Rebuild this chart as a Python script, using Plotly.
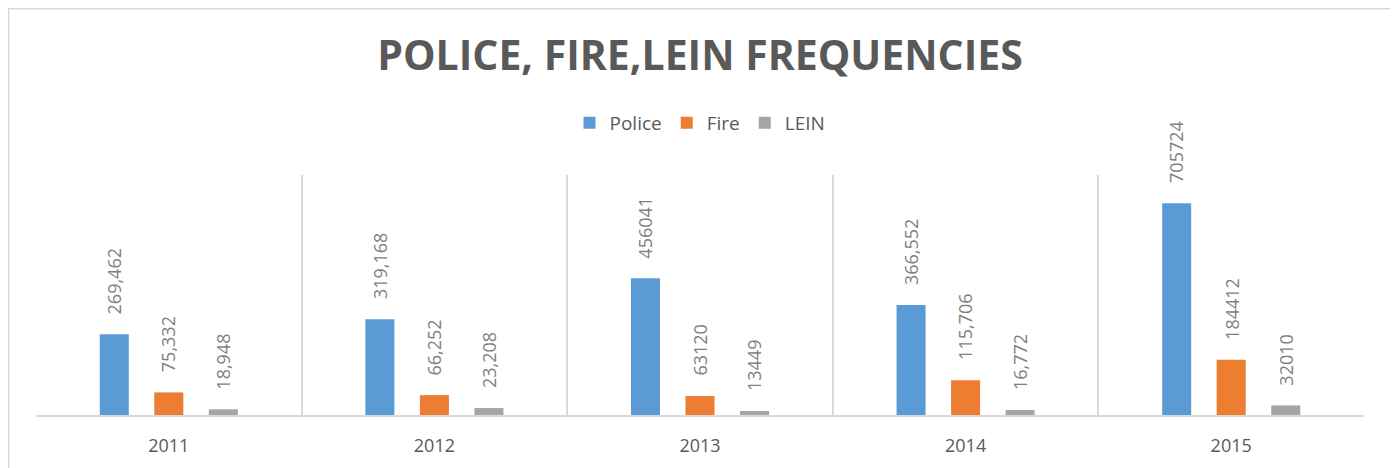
import plotly.graph_objects as go

years = ["2011", "2012", "2013", "2014", "2015"]
police = [269462, 319168, 456041, 366552, 705724]
fire = [75332, 66252, 63120, 115706, 184412]
lein = [18948, 23208, 13449, 16772, 32010]
police_labels = ["269,462", "319,168", "456041", "366,552", "705724"]
fire_labels = ["75,332", "66,252", "63120", "115,706", "184412"]
lein_labels = ["18,948", "23,208", "13449", "16,772", "32010"]

series = [
    ("Police", police, police_labels, "#5B9BD5"),
    ("Fire", fire, fire_labels, "#ED7D31"),
    ("LEIN", lein, lein_labels, "#A5A5A5"),
]

BARGAP = 0.384
BARGROUPGAP = 0.468
FONT = "Open Sans"
W, H = 1390, 460
ML, MR, MT, MB = 28, 34, 167, 53
PW, PH = W - ML - MR, H - MT - MB

fig = go.Figure()
annotations = []
slot = (1 - BARGAP) / len(series)
for k, (name, vals, labels, color) in enumerate(series):
    fig.add_trace(go.Bar(
        name=name, x=years, y=vals, marker=dict(color=color, line=dict(width=0)),
        hoverinfo="x+y",
    ))
    for i, (v, lab) in enumerate(zip(vals, labels)):
        annotations.append(dict(
            x=i + (k - 1) * slot, y=v, xref="x", yref="y",
            text=lab, showarrow=False, textangle=-90,
            xanchor="center", yanchor="bottom", yshift=18,
            font=dict(family=FONT, size=18, color="#7F7F7F"),
        ))

fig.update_layout(
    barmode="group", bargap=BARGAP, bargroupgap=BARGROUPGAP,
    width=W, height=H,
    margin=dict(l=ML, r=MR, t=MT, b=MB),
    paper_bgcolor="white", plot_bgcolor="white",
    title=dict(
        text="<b>POLICE, FIRE,LEIN FREQUENCIES</b>",
        font=dict(family=FONT, size=41, color="#595959"),
        x=0.5, xanchor="center", xref="paper",
        y=1 - 48 / H, yanchor="middle", yref="container",
    ),
    legend=dict(
        orientation="h", x=0.5, xanchor="center", y=1 + (407 - 115) / PH - 1, yanchor="middle",
        font=dict(family=FONT, size=19, color="#595959"),
        itemclick=False, bgcolor="rgba(0,0,0,0)",
    ),
    xaxis=dict(
        type="category", tickson="boundaries", showgrid=True,
        gridcolor="#D9D9D9", gridwidth=1.5, ticks="", ticklen=0,
        showline=True, linecolor="#D9D9D9", linewidth=2,
        tickfont=dict(family=FONT, size=18, color="#595959"),
        ticklabelstandoff=13,
    ),
    yaxis=dict(range=[0, 800000], showgrid=False, showticklabels=False,
               zeroline=False, showline=False, ticks=""),
    annotations=annotations,
    shapes=[dict(
        type="rect", xref="paper", yref="paper",
        x0=(0.75 - ML) / PW, x1=(1385 - ML) / PW,
        y0=(MT + PH - H - 10) / PH, y1=(MT + PH - 0.75) / PH,
        line=dict(color="#D9D9D9", width=1.5), fillcolor="rgba(0,0,0,0)",
        layer="below",
    )],
    showlegend=True,
)

fig.write_html("out.html")
